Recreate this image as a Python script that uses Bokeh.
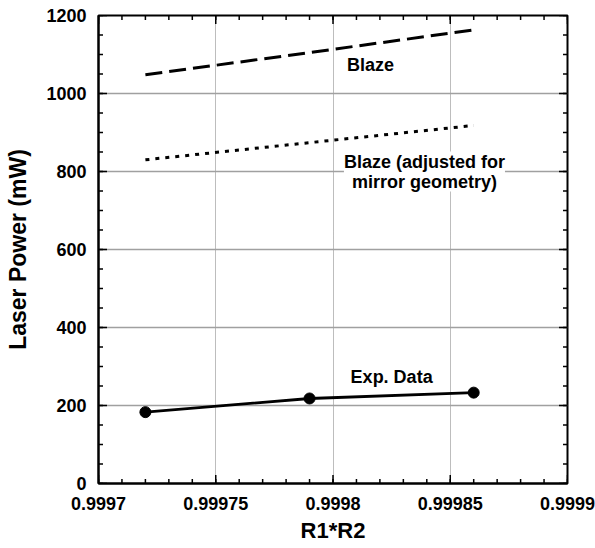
from bokeh.plotting import figure
from bokeh.models import FixedTicker, CustomJSTickFormatter, Label, Range1d
from bokeh.embed import file_html
from bokeh.resources import INLINE

# ---- data ----
exp_x = [0.99972, 0.99979, 0.99986]
exp_y = [183, 218, 233]
blaze_x = [0.99972, 0.99979, 0.99986]
blaze_y = [1048, 1105, 1163]
adj_x = [0.99972, 0.99979, 0.99986]
adj_y = [830, 874, 918]

x_major = [0.9997, 0.99975, 0.9998, 0.99985, 0.9999]
x_minor = [round(0.9997 + i * 0.00001, 6) for i in range(21)]
y_major = [0, 200, 400, 600, 800, 1000, 1200]
y_minor = list(range(0, 1201, 50))

X0, X1 = 0.9997, 0.9999
Y0, Y1 = 0, 1200

FONT = "Liberation Sans"
W, H = 595, 548
BL, BR, BT, BB = 98, 28, 15, 65
FW, FH = W - BL - BR, H - BT - BB

p = figure(width=W, height=H, output_backend="svg", toolbar_location=None,
           x_range=Range1d(X0, X1), y_range=Range1d(Y0, Y1),
           min_border_left=BL, min_border_right=BR, min_border_top=BT, min_border_bottom=BB)
p.background_fill_color = "white"
p.border_fill_color = "white"
p.outline_line_color = "black"
p.outline_line_width = 2

fmt = CustomJSTickFormatter(code="var s = tick.toFixed(5); s = s.replace(/0+$/, ''); if (s.endsWith('.')) s = s.slice(0,-1); return s;")

xt = FixedTicker(ticks=x_major, minor_ticks=x_minor)
yt = FixedTicker(ticks=y_major, minor_ticks=y_minor)

for ax in (p.xaxis[0], p.yaxis[0]):
    ax.axis_line_color = "black"
    ax.axis_line_width = 2
    ax.major_tick_in = 0
    ax.major_tick_out = 0
    ax.minor_tick_in = 0
    ax.minor_tick_out = 0
    ax.major_label_text_font = FONT
    ax.major_label_text_font_style = "bold"
    ax.major_label_text_font_size = "18px"
    ax.major_label_text_color = "black"
    ax.axis_label_text_font = FONT
    ax.axis_label_text_font_style = "bold"
    ax.axis_label_text_color = "black"

p.xaxis[0].ticker = xt
p.xaxis[0].formatter = fmt
p.yaxis[0].ticker = yt
p.xaxis[0].axis_label = "R1*R2"
p.yaxis[0].axis_label = "Laser Power (mW)"
p.xaxis[0].axis_label_text_font_size = "22px"
p.yaxis[0].axis_label_text_font_size = "23px"
p.xaxis[0].major_label_standoff = 13
p.yaxis[0].major_label_standoff = 12
p.xaxis[0].axis_label_standoff = 5
p.yaxis[0].axis_label_standoff = 12

# grids
p.xgrid.ticker = FixedTicker(ticks=x_major[1:-1])
p.xgrid.grid_line_color = "#7a7a7a"
p.xgrid.grid_line_width = 1
p.xgrid.grid_line_dash = "1 1"
p.ygrid.ticker = FixedTicker(ticks=y_major[1:-1])
p.ygrid.grid_line_color = "#a0a0a0"
p.ygrid.grid_line_width = 1.3

# inside tick marks on all four sides, lengths converted from pixels to data units
dx = (X1 - X0) / FW
dy = (Y1 - Y0) / FH
TICK_COLOR = "black"
TICK_W = 1.5

def ticks_x(vals, length):
    n = len(vals)
    p.segment(x0=vals, y0=[Y0] * n, x1=vals, y1=[Y0 + length * dy] * n,
              line_color=TICK_COLOR, line_width=TICK_W)
    p.segment(x0=vals, y0=[Y1] * n, x1=vals, y1=[Y1 - length * dy] * n,
              line_color=TICK_COLOR, line_width=TICK_W)

def ticks_y(vals, length):
    n = len(vals)
    p.segment(x0=[X0] * n, y0=vals, x1=[X0 + length * dx] * n, y1=vals,
              line_color=TICK_COLOR, line_width=TICK_W)
    p.segment(x0=[X1] * n, y0=vals, x1=[X1 - length * dx] * n, y1=vals,
              line_color=TICK_COLOR, line_width=TICK_W)

ticks_x(x_minor, 4.5)
ticks_x(x_major, 8.5)
ticks_y(y_minor, 4.5)
ticks_y(y_major, 8.5)

# series
p.line(blaze_x, blaze_y, line_color="black", line_width=3, line_dash="17 7")
p.line(adj_x, adj_y, line_color="black", line_width=3, line_dash="4 6")
p.line(exp_x, exp_y, line_color="black", line_width=2.8)
p.scatter(exp_x, exp_y, size=11, fill_color="black", line_color="black")

def lab(x, y, t):
    l = Label(x=x, y=y, text=t, text_font=FONT, text_font_style="bold",
              text_font_size="18px", text_align="center", text_baseline="middle",
              text_color="black", background_fill_color="white",
              text_line_height=1.0)
    p.add_layout(l)

lab(0.999816, 1074, "Blaze")
lab(0.999839, 800, "Blaze (adjusted for\nmirror geometry)")
lab(0.999825, 274, "Exp. Data")

open("out.html", "w").write(file_html(p, INLINE))
